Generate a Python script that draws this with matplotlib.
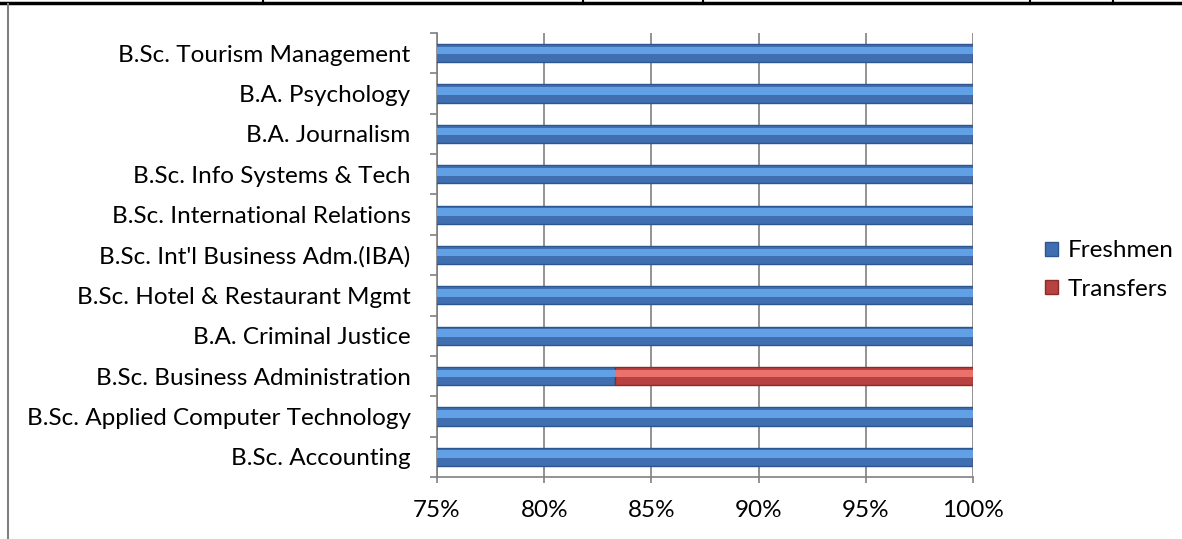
import matplotlib.pyplot as plt
from matplotlib.lines import Line2D
from matplotlib.patches import Patch

programs = [
    "B.Sc. Accounting",
    "B.Sc. Applied Computer Technology",
    "B.Sc. Business Administration",
    "B.A. Criminal Justice",
    "B.Sc. Hotel & Restaurant Mgmt",
    "B.Sc. Int'l Business Adm.(IBA)",
    "B.Sc. International Relations",
    "B.Sc. Info Systems & Tech",
    "B.A. Journalism",
    "B.A. Psychology",
    "B.Sc. Tourism Management",
]
freshmen = [100, 100, 83.3, 100, 100, 100, 100, 100, 100, 100, 100]
transfers = [0, 0, 16.7, 0, 0, 0, 0, 0, 0, 0, 0]
xticks = [75, 80, 85, 90, 95, 100]

plt.rcParams['font.family'] = ['Lato', 'DejaVu Sans']
FS = 17.5

fig = plt.figure(figsize=(11.82, 5.39), dpi=100)
ax = fig.add_axes([437 / 1182, 1 - 477 / 539, (973 - 437) / 1182, (477 - 33) / 539])

y = list(range(len(programs)))
h = 0.45
blue, blue_hi, blue_edge = '#3f6fb0', '#62a0e6', '#2d5690'
red, red_hi, red_edge = '#b8423f', '#ec706b', '#8a2c29'

ax.barh(y, freshmen, height=h, color=blue, edgecolor=blue_edge, linewidth=1, zorder=3)
ax.barh(y, transfers, left=freshmen, height=h, color=red, edgecolor=red_edge, linewidth=1, zorder=3)
# lighter upper stripe for the bevelled look
hy = [v + h * 0.14 for v in y]
ax.barh(hy, freshmen, height=h * 0.42, color=blue_hi, linewidth=0, zorder=4)
ax.barh(hy, transfers, left=freshmen, height=h * 0.42, color=red_hi, linewidth=0, zorder=4)

ax.set_xlim(75, 100)
ax.set_ylim(-0.5, len(programs) - 0.5)
ax.set_xticks(xticks)
ax.set_xticklabels([f"{t}%" for t in xticks], fontsize=FS)
ax.set_yticks(y)
ax.set_yticklabels(programs, fontsize=FS)
ax.tick_params(axis='y', length=0, pad=19)
ax.tick_params(axis='x', length=4.5, width=1.2, color='#808080', pad=12)
ax.set_yticks([v - 0.5 for v in range(len(programs) + 1)], minor=True)
ax.tick_params(axis='y', which='minor', length=5, width=1.2, color='#808080')

ax.grid(axis='x', color='#808080', linewidth=1.2, zorder=0)
for s in ['top', 'right']:
    ax.spines[s].set_visible(False)
for s in ['left', 'bottom']:
    ax.spines[s].set_color('#808080')
    ax.spines[s].set_linewidth(1.2)

handles = [Patch(facecolor=blue, edgecolor=blue_edge, label='Freshmen'),
           Patch(facecolor=red, edgecolor=red_edge, label='Transfers')]
fig.legend(handles=handles, loc='center left', bbox_to_anchor=(1045 / 1182, 1 - 270 / 539),
           frameon=False, fontsize=FS, handlelength=0.55, handleheight=0.55,
           handletextpad=0.4, labelspacing=0.7, borderpad=0, borderaxespad=0)

# page borders around the chart
fig.add_artist(Line2D([0, 1], [1 - 3 / 539, 1 - 3 / 539], color='black', linewidth=2.5))
fig.add_artist(Line2D([8 / 1182, 8 / 1182], [0, 1 - 4 / 539], color='#808080', linewidth=1.5))
for xp in [263, 583, 703, 1030, 1113]:
    fig.add_artist(Line2D([xp / 1182, xp / 1182], [1 - 4 / 539, 1], color='black', linewidth=1.5))

fig.savefig('out.png', dpi=100)
